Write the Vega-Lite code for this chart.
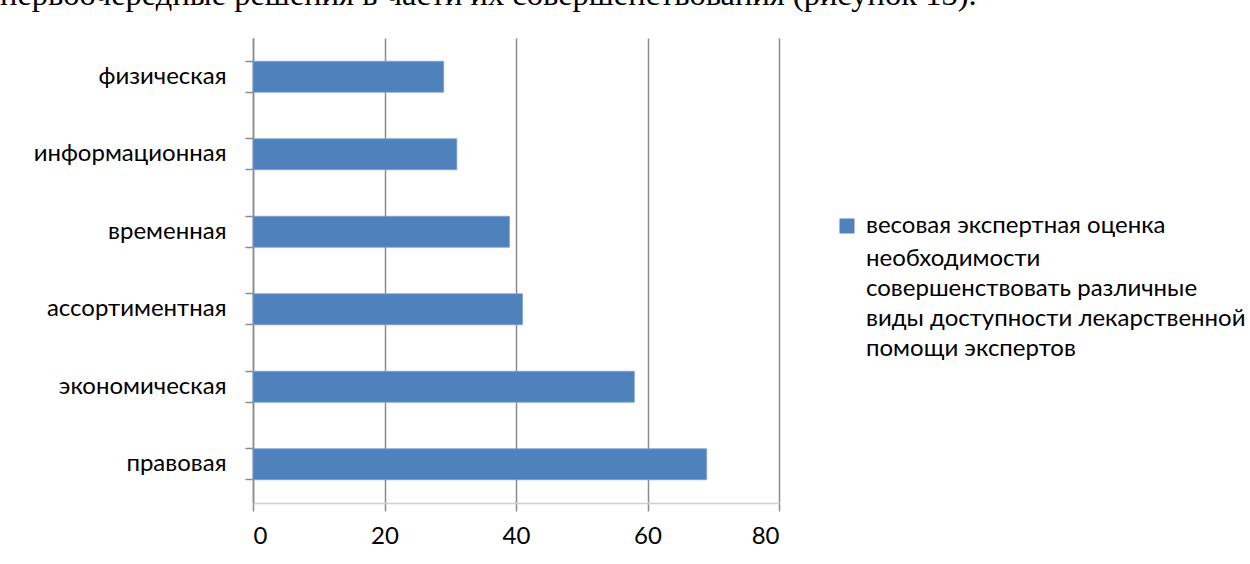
{
  "$schema": "https://vega.github.io/schema/vega-lite/v6.json",
  "autosize": {"type": "none"},
  "padding": {"left": 253, "top": 38, "right": 471, "bottom": 61},
  "width": 526,
  "height": 465,
  "background": "white",
  "title": {
    "text": "первоочередные решения в части их совершенствования (рисунок 13).",
    "anchor": "start",
    "frame": "group",
    "orient": "top",
    "font": "Liberation Serif",
    "fontSize": 32.5,
    "fontWeight": "normal",
    "color": "black",
    "baseline": "alphabetic",
    "offset": 20,
    "dx": -253,
    "dy": 19
  },
  "config": {
    "view": {"stroke": null},
    "font": "Lato",
    "style": {"guide-label": {"lineHeight": 30}}
  },
  "data": {
    "values": [
      {"category": "физическая", "value": 29, "series": "весовая экспертная оценка необходимости совершенствовать различные виды доступности лекарственной помощи экспертов"},
      {"category": "информационная", "value": 31, "series": "весовая экспертная оценка необходимости совершенствовать различные виды доступности лекарственной помощи экспертов"},
      {"category": "временная", "value": 39, "series": "весовая экспертная оценка необходимости совершенствовать различные виды доступности лекарственной помощи экспертов"},
      {"category": "ассортиментная", "value": 41, "series": "весовая экспертная оценка необходимости совершенствовать различные виды доступности лекарственной помощи экспертов"},
      {"category": "экономическая\u00a0", "value": 58, "series": "весовая экспертная оценка необходимости совершенствовать различные виды доступности лекарственной помощи экспертов"},
      {"category": "правовая", "value": 69, "series": "весовая экспертная оценка необходимости совершенствовать различные виды доступности лекарственной помощи экспертов"}
    ]
  },
  "layer": [
    {
      "mark": {"type": "bar", "stroke": "#7fa2d3", "strokeWidth": 0.8},
      "encoding": {
        "y": {
          "field": "category",
          "type": "nominal",
          "sort": null,
          "scale": {"paddingInner": 0.6, "paddingOuter": 0.3},
          "axis": {
            "title": null,
            "orient": "left",
            "bandPosition": 0,
            "domainColor": "#8c8c8c",
            "domainWidth": 1.5,
            "tickColor": "#8c8c8c",
            "tickWidth": 1.5,
            "tickSize": 8,
            "labelPadding": 19,
            "labelFontSize": 24,
            "labelColor": "black",
            "labelFont": "Lato",
            "labelLimit": 0
          }
        },
        "x": {
          "field": "value",
          "type": "quantitative",
          "scale": {"domain": [0, 80], "nice": false},
          "axis": {
            "title": null,
            "values": [0, 20, 40, 60, 80],
            "grid": true,
            "gridColor": "#8c8c8c",
            "gridWidth": 1.5,
            "domainColor": "#d0d0d0",
            "domainWidth": 1.5,
            "tickColor": "#8c8c8c",
            "tickWidth": 1.5,
            "tickSize": 8,
            "labelPadding": 13,
            "labelFontSize": 24,
            "labelColor": "black",
            "labelFont": "Lato"
          }
        },
        "color": {
          "field": "series",
          "type": "nominal",
          "scale": {"range": ["#4f81bd"]},
          "legend": {
            "title": null,
            "orient": "none",
            "legendX": 582,
            "legendY": 176,
            "symbolType": "square",
            "symbolSize": 225,
            "symbolStrokeWidth": 0,
            "labelFontSize": 24,
            "labelFont": "Lato",
            "labelColor": "black",
            "labelLimit": 0,
            "labelOffset": 7,
            "labelBaseline": "middle",
            "labelExpr": "'весовая экспертная оценка'"
          }
        }
      }
    },
    {
      "mark": {"type": "tick", "opacity": 0},
      "encoding": {
        "y": {
          "field": "category",
          "type": "nominal",
          "sort": null,
          "axis": {
            "title": null,
            "orient": "left",
            "bandPosition": 1,
            "labels": false,
            "domain": false,
            "tickColor": "#8c8c8c",
            "tickWidth": 1.5,
            "tickSize": 8
          }
        },
        "strokeDash": {
          "field": "series",
          "type": "nominal",
          "scale": {
            "domain": ["весовая экспертная оценка необходимости совершенствовать различные виды доступности лекарственной помощи экспертов"],
            "range": [[1, 0]]
          },
          "legend": {
            "title": null,
            "orient": "none",
            "legendX": 582,
            "legendY": 197,
            "symbolType": "square",
            "symbolSize": 225,
            "symbolOpacity": 0,
            "symbolStrokeWidth": 0,
            "labelFontSize": 24,
            "labelFont": "Lato",
            "labelColor": "black",
            "labelLimit": 0,
            "labelOffset": 7,
            "labelBaseline": "top",
            "labelExpr": "['необходимости', 'совершенствовать различные', 'виды доступности лекарственной', 'помощи экспертов']"
          }
        }
      }
    }
  ],
  "resolve": {"axis": {"y": "independent"}}
}
